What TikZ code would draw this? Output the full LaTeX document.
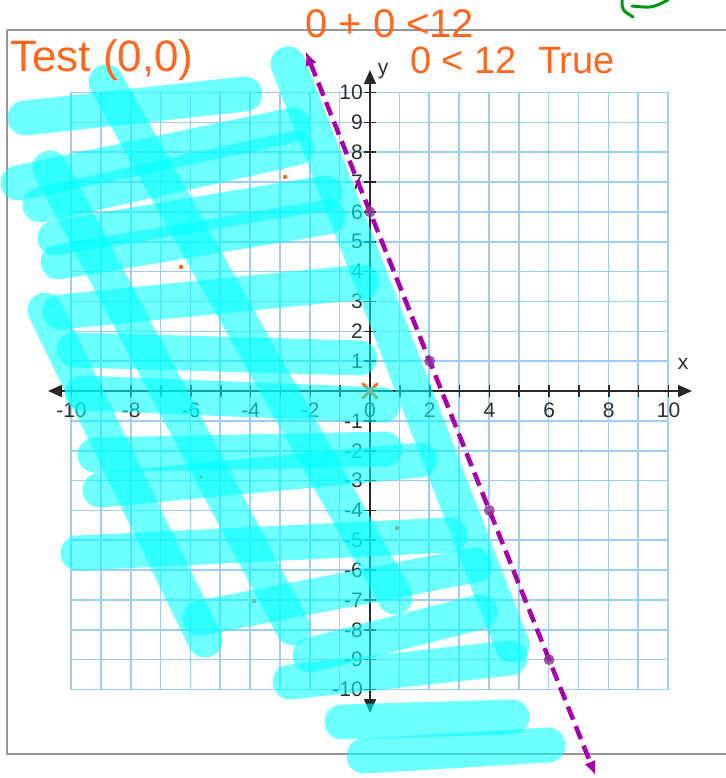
\documentclass[tikz,border=0pt]{standalone}
\usepackage{fontspec}
\setmainfont{Liberation Sans}
\usetikzlibrary{arrows.meta}
\definecolor{gridblue}{RGB}{155,205,248}
\definecolor{axisgray}{RGB}{40,40,40}
\definecolor{labgray}{RGB}{45,45,45}
\definecolor{hlcyan}{RGB}{0,255,255}
\definecolor{inkorange}{RGB}{255,102,30}
\definecolor{linepurple}{RGB}{165,0,170}
\definecolor{ptpurple}{RGB}{140,50,150}
\definecolor{inkgreen}{RGB}{0,150,20}
\definecolor{framegray}{RGB}{150,150,150}
\begin{document}
\begin{tikzpicture}[x=1pt,y=-1pt,
  gridline/.style={draw=gridblue, line width=1.6pt},
  axisline/.style={draw=axisgray, line width=2pt},
  tickline/.style={draw=axisgray, line width=1.6pt},
  ticklab/.style={text=labgray, font=\fontsize{21}{24}\selectfont, inner sep=0pt},
  hl/.style={draw=hlcyan, line width=35pt, line cap=round, draw opacity=0.57},
  ink/.style={text=inkorange, inner sep=0pt},
  dot/.style={fill=inkorange},
  ptdot/.style={fill=ptpurple, fill opacity=0.8},
  tri/.style={-{Triangle[length=14pt,width=12pt]}}
]
\useasboundingbox (0,0) rectangle (725,778);
% frame
\draw[draw=framegray, line width=2pt] (7,30) -- (7,754) -- (740,754);
\draw[draw=framegray, line width=2pt] (7,30) -- (740,30);
% grid
\foreach \i in {0,...,20} {
  \draw[gridline] ({71+\i*29.85},92.5) -- ({71+\i*29.85},689.5);
  \draw[gridline] (71,{92.5+\i*29.85}) -- (668,{92.5+\i*29.85});
}
% axes
\coordinate (o) at (370,391);
\coordinate (xl) at (48,391);
\coordinate (xr) at (692,391);
\coordinate (yt) at (370,70);
\coordinate (yb) at (370,713);
\draw[axisline, tri] (o) -- (xr);
\draw[axisline, tri] (o) -- (xl);
\draw[axisline, tri] (o) -- (yt);
\draw[axisline, tri] (o) -- (yb);
\foreach \i in {-10,...,10} {
  \draw[tickline] ({370+29.85*\i},385) -- ({370+29.85*\i},397);
  \draw[tickline] (364,{391-29.85*\i}) -- (376,{391-29.85*\i});
}
\foreach \i in {-10,-8,...,10} {
  \node[ticklab] (xlab\i) at ({370+29.85*\i},410) {\i};
}
\foreach \j in {-10,...,-1,1,2,...,10} {
  \node[ticklab, anchor=east] (ylab\j) at (363,{391-29.85*\j}) {\j};
}
\node[ticklab] (xname) at (683,364) {x};
\node[ticklab] (yname) at (383,71) {y};
% orange marks
\fill[dot] (285,177) circle (2.2);
\fill[dot] (181,267) circle (2.2);
\fill[dot] (397,528) circle (2.2);
\fill[dot] (201,477) circle (2.2);
\fill[dot] (254,601) circle (2.2);
\draw[draw=inkorange, line width=3pt, line cap=round] (363,384) -- (377,398);
\draw[draw=inkorange, line width=3pt, line cap=round] (377,384) -- (363,398);
% highlighter strokes
\draw[hl] (288,64) -- (512,645);
\draw[hl] (106,82) -- (395,597);
\draw[hl] (50,168) -- (293,628);
\draw[hl] (45,310) -- (205,640);
\draw[hl] (25,118) -- (245,94);
\draw[hl] (18,183) -- (293,125);
\draw[hl] (40,205) -- (296,148);
\draw[hl] (55,238) -- (325,193);
\draw[hl] (58,262) -- (328,217);
\draw[hl] (60,312) -- (362,282);
\draw[hl] (74,350) -- (360,358);
\draw[hl] (82,393) -- (383,405);
\draw[hl] (95,455) -- (385,449);
\draw[hl] (100,490) -- (420,460);
\draw[hl] (78,553) -- (450,535);
\draw[hl] (200,618) -- (475,565);
\draw[hl] (310,655) -- (480,612);
\draw[hl] (290,682) -- (510,658);
\draw[hl] (342,722) -- (512,717);
\draw[hl] (364,756) -- (548,745);
% dashed boundary line
\coordinate (pt) at (305.8,51.5);
\coordinate (pb) at (595.4,775.3);
\draw[draw=linepurple, line width=4.5pt, dash pattern=on 14pt off 7pt,
  {Latex[length=14pt,width=12pt]}-{Latex[length=14pt,width=12pt]}] (pt) -- (pb);
\fill[ptdot] (370,211.9) circle (5.5);
\fill[ptdot] (429.7,361.15) circle (5.5);
\fill[ptdot] (489.4,510.4) circle (5.5);
\fill[ptdot] (549.1,659.65) circle (5.5);
% handwriting
\node[ink, font=\fontsize{44}{48}\selectfont, anchor=base west] (test) at (10,72) {Test (0,0)};
\node[ink, font=\fontsize{40}{44}\selectfont, anchor=west] (eq1) at (305,24) {0 + 0 <12};
\node[ink, font=\fontsize{38}{42}\selectfont, anchor=west] (eq2) at (410,60) {0 < 12\ \ True};
\draw[draw=inkgreen, line width=3pt, line cap=round] (622,0) .. controls (622,10) .. (633,17);
\draw[draw=inkgreen, line width=3pt, line cap=round] (632,6) .. controls (652,8) .. (668,0);
\end{tikzpicture}
\end{document}
